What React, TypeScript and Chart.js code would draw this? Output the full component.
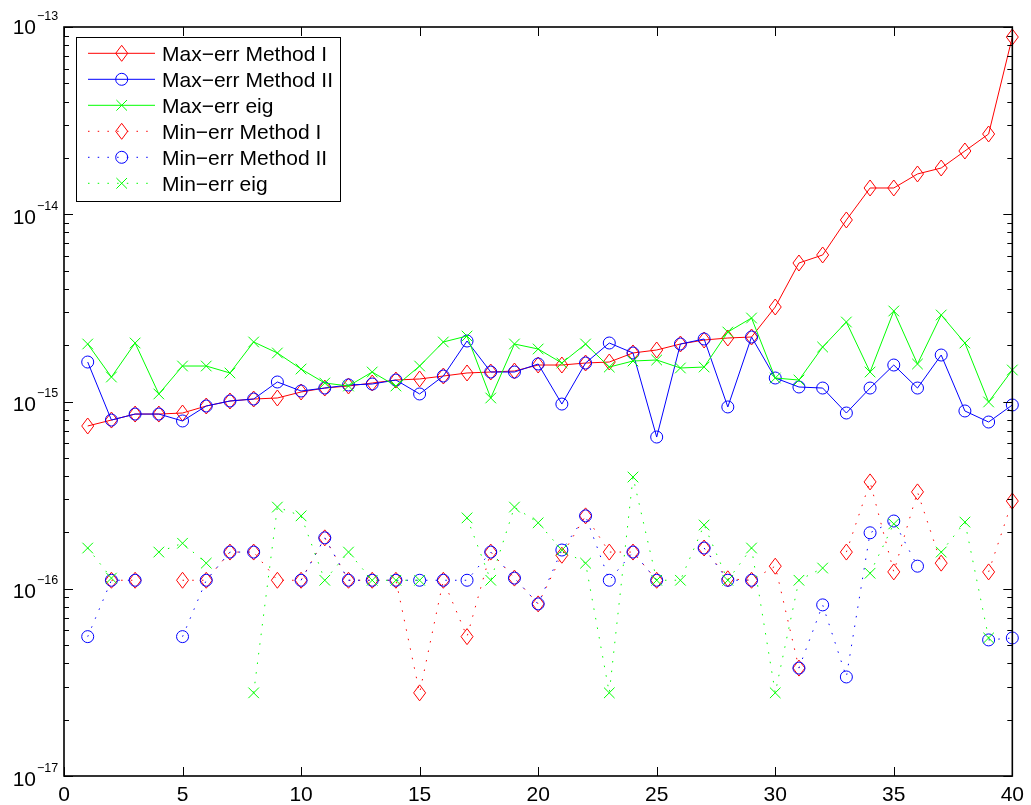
import React, { useEffect, useRef } from 'react';
import { Chart, registerables } from 'chart.js';

Chart.register(...registerables);

const X_VALUES = [1, 2, 3, 4, 5, 6, 7, 8, 9, 10, 11, 12, 13, 14, 15, 16, 17, 18, 19, 20,
  21, 22, 23, 24, 25, 26, 27, 28, 29, 30, 31, 32, 33, 34, 35, 36, 37, 38, 39, 40];
const X_TICKS = [0, 5, 10, 15, 20, 25, 30, 35, 40];
const Y_DECADES = [-17, -16, -15, -14, -13];

const maxErrMethodI = [7.40e-16, 7.96e-16, 8.57e-16, 8.57e-16, 8.68e-16, 9.46e-16, 1.006e-15, 1.031e-15, 1.044e-15, 1.124e-15,
  1.180e-15, 1.210e-15, 1.255e-15, 1.302e-15, 1.319e-15, 1.368e-15, 1.420e-15, 1.437e-15, 1.455e-15, 1.566e-15,
  1.566e-15, 1.605e-15, 1.625e-15, 1.816e-15, 1.884e-15, 2.028e-15, 2.130e-15, 2.183e-15, 2.210e-15, 3.196e-15,
  5.49e-15, 6.06e-15, 9.32e-15, 1.381e-14, 1.381e-14, 1.641e-14, 1.766e-14, 2.177e-14, 2.683e-14, 8.84e-14];

const maxErrMethodII = [1.625e-15, 7.96e-16, 8.57e-16, 8.57e-16, 7.87e-16, 9.46e-16, 1.006e-15, 1.031e-15, 1.271e-15, 1.138e-15,
  1.180e-15, 1.225e-15, 1.240e-15, 1.302e-15, 1.097e-15, 1.368e-15, 2.104e-15, 1.437e-15, 1.437e-15, 1.586e-15,
  9.69e-16, 1.605e-15, 2.053e-15, 1.816e-15, 6.46e-16, 2.028e-15, 2.157e-15, 9.35e-16, 2.210e-15, 1.335e-15,
  1.195e-15, 1.180e-15, 8.68e-16, 1.180e-15, 1.566e-15, 1.180e-15, 1.771e-15, 8.90e-16, 7.77e-16, 9.58e-16];

const maxErrEig = [2.028e-15, 1.351e-15, 2.053e-15, 1.097e-15, 1.547e-15, 1.547e-15, 1.420e-15, 2.079e-15, 1.816e-15, 1.491e-15,
  1.255e-15, 1.210e-15, 1.437e-15, 1.210e-15, 1.547e-15, 2.079e-15, 2.237e-15, 1.044e-15, 2.028e-15, 1.907e-15,
  1.605e-15, 2.028e-15, 1.528e-15, 1.645e-15, 1.666e-15, 1.510e-15, 1.528e-15, 2.350e-15, 2.792e-15, 1.335e-15,
  1.302e-15, 1.954e-15, 2.658e-15, 1.437e-15, 3.043e-15, 1.586e-15, 2.897e-15, 2.053e-15, 9.94e-16, 1.473e-15];

const minErrMethodI = [null, 1.11e-16, 1.11e-16, null, 1.11e-16, 1.11e-16, 1.57e-16, 1.57e-16, 1.11e-16, 1.11e-16,
  1.87e-16, 1.11e-16, 1.11e-16, 1.11e-16, 2.78e-17, 1.11e-16, 5.55e-17, 1.57e-16, 1.14e-16, 8.3e-17,
  1.51e-16, 2.45e-16, 1.57e-16, 1.57e-16, 1.11e-16, null, 1.65e-16, 1.13e-16, 1.11e-16, 1.32e-16,
  3.77e-17, null, 1.57e-16, 3.72e-16, 1.23e-16, 3.29e-16, 1.37e-16, null, 1.23e-16, 2.94e-16];

const minErrMethodII = [5.55e-17, 1.11e-16, 1.11e-16, null, 5.55e-17, 1.11e-16, 1.57e-16, 1.57e-16, null, 1.11e-16,
  1.87e-16, 1.11e-16, 1.11e-16, 1.11e-16, 1.11e-16, 1.11e-16, 1.11e-16, 1.57e-16, 1.14e-16, 8.3e-17,
  1.61e-16, 2.45e-16, 1.11e-16, 1.57e-16, 1.11e-16, null, 1.65e-16, 1.11e-16, 1.11e-16, null,
  3.77e-17, 8.2e-17, 3.38e-17, 1.99e-16, 2.30e-16, 1.32e-16, null, null, 5.33e-17, 5.46e-17];

const minErrEig = [1.65e-16, 1.14e-16, null, 1.57e-16, 1.75e-16, 1.37e-16, null, 2.78e-17, 2.73e-16, 2.45e-16,
  1.11e-16, 1.57e-16, 1.11e-16, 1.11e-16, 1.11e-16, null, 2.39e-16, 1.11e-16, 2.73e-16, 2.25e-16,
  1.61e-16, 1.37e-16, 2.78e-17, 3.95e-16, 1.11e-16, 1.11e-16, 2.19e-16, 1.11e-16, 1.65e-16, 2.78e-17,
  1.11e-16, 1.29e-16, null, 1.21e-16, 2.22e-16, null, 1.57e-16, 2.27e-16, 5.46e-17, null];

const SERIES_LABELS = ['Max\u2212err Method I', 'Max\u2212err Method II', 'Max\u2212err eig',
  'Min\u2212err Method I', 'Min\u2212err Method II', 'Min\u2212err eig'];

const RED = '#ff0000';
const BLUE = '#0000ff';
const GREEN = '#00ff00';
const FONT = '"Liberation Sans", Arial, Helvetica, sans-serif';
const DOTS = [1.5, 8.2];

function diamondPath(ctx: CanvasRenderingContext2D, x: number, y: number) {
  ctx.beginPath();
  ctx.moveTo(x, y - 8);
  ctx.lineTo(x + 6, y);
  ctx.lineTo(x, y + 8);
  ctx.lineTo(x - 6, y);
  ctx.closePath();
}

function drawMarker(ctx: CanvasRenderingContext2D, kind: string, color: string, x: number, y: number) {
  ctx.save();
  ctx.setLineDash([]);
  ctx.strokeStyle = color;
  ctx.lineWidth = 1;
  if (kind === 'diamond') {
    diamondPath(ctx, x, y);
    ctx.stroke();
  } else if (kind === 'circle') {
    ctx.beginPath();
    ctx.arc(x, y, 6, 0, Math.PI * 2);
    ctx.stroke();
  } else {
    const r = 5.3;
    ctx.beginPath();
    ctx.moveTo(x - r, y - r);
    ctx.lineTo(x + r, y + r);
    ctx.moveTo(x + r, y - r);
    ctx.lineTo(x - r, y + r);
    ctx.stroke();
  }
  ctx.restore();
}

export default function App() {
  const ref = useRef<HTMLCanvasElement>(null);

  useEffect(() => {
    const canvas = ref.current!;
    const values = [maxErrMethodI, maxErrMethodII, maxErrEig, minErrMethodI, minErrMethodII, minErrEig];
    const colors = [RED, BLUE, GREEN, RED, BLUE, GREEN];
    const kinds = ['diamond', 'circle', 'x', 'diamond', 'circle', 'x'];

    const datasets = values.map((arr, i) => {
      const kind = kinds[i];
      const radius = kind === 'diamond' ? 0 : kind === 'circle' ? 6 : 7.5;
      return {
        label: SERIES_LABELS[i],
        data: X_VALUES.map((x, j) => ({ x, y: arr[j] })),
        borderColor: colors[i],
        backgroundColor: 'transparent',
        borderWidth: 1,
        borderDash: i >= 3 ? DOTS : [],
        pointStyle: kind === 'circle' ? 'circle' : 'crossRot',
        pointRadius: radius,
        pointHoverRadius: radius,
        pointBorderColor: colors[i],
        pointBackgroundColor: 'transparent',
        pointBorderWidth: 1,
        tension: 0,
        spanGaps: false,
        clip: false as any,
        order: 5 - i,
        _kind: kind,
      };
    });

    const markerPlugin = {
      id: 'diamondMarkers',
      afterDatasetDraw(chart: any, args: any) {
        const meta = args.meta;
        const ds: any = chart.data.datasets[args.index];
        if (ds._kind !== 'diamond') return;
        const ctx = chart.ctx;
        meta.data.forEach((el: any) => {
          if (el.skip || el.y == null || isNaN(el.y)) return;
          drawMarker(ctx, 'diamond', ds.borderColor, el.x, el.y);
        });
      },
    };

    const framePlugin = {
      id: 'matlabFrame',
      afterDraw(chart: any) {
        const { ctx, chartArea } = chart;
        const { left, right, top, bottom } = chartArea;
        const xs = chart.scales.x;
        const ys = chart.scales.y;
        ctx.save();
        ctx.strokeStyle = '#000';
        ctx.fillStyle = '#000';
        ctx.setLineDash([]);

        ctx.lineWidth = 1;
        ctx.beginPath();
        X_TICKS.forEach((v) => {
          const px = Math.round(xs.getPixelForValue(v)) + 0.5;
          ctx.moveTo(px, bottom);
          ctx.lineTo(px, bottom - 9);
          ctx.moveTo(px, top);
          ctx.lineTo(px, top + 9);
        });
        Y_DECADES.forEach((d) => {
          const py = Math.round(ys.getPixelForValue(Math.pow(10, d))) + 0.5;
          ctx.moveTo(left, py);
          ctx.lineTo(left + 9, py);
          ctx.moveTo(right, py);
          ctx.lineTo(right - 9, py);
          if (d < -13) {
            for (let k = 2; k <= 9; k++) {
              const pm = Math.round(ys.getPixelForValue(k * Math.pow(10, d))) + 0.5;
              ctx.moveTo(left, pm);
              ctx.lineTo(left + 5, pm);
              ctx.moveTo(right, pm);
              ctx.lineTo(right - 5, pm);
            }
          }
        });
        ctx.stroke();

        ctx.lineWidth = 1.6;
        ctx.strokeRect(left, top, right - left, bottom - top);

        Y_DECADES.forEach((d) => {
          const py = ys.getPixelForValue(Math.pow(10, d));
          const shift = d === -13 ? -2.5 : 0;
          ctx.font = `21px ${FONT}`;
          ctx.textAlign = 'right';
          ctx.textBaseline = 'alphabetic';
          ctx.fillText('10', 36, py + 9.5 + shift);
          ctx.font = `12.5px ${FONT}`;
          ctx.textAlign = 'left';
          ctx.fillText('\u2212' + String(-d), 37, py - 4.5 + shift);
        });

        const lx = 76.5, ly = 37.5, lw = 264, lh = 164;
        ctx.fillStyle = '#fff';
        ctx.fillRect(lx, ly, lw, lh);
        ctx.lineWidth = 1;
        ctx.strokeStyle = '#000';
        ctx.strokeRect(lx, ly, lw, lh);
        chart.data.datasets.forEach((ds: any, i: number) => {
          const cy = 53.3 + 26 * i;
          ctx.save();
          ctx.strokeStyle = ds.borderColor;
          ctx.lineWidth = 1;
          ctx.setLineDash(ds.borderDash || []);
          ctx.beginPath();
          ctx.moveTo(88, cy);
          ctx.lineTo(155, cy);
          ctx.stroke();
          ctx.restore();
          drawMarker(ctx, ds._kind, ds.borderColor, 121.7, cy);
          ctx.fillStyle = '#000';
          ctx.font = `21px ${FONT}`;
          ctx.textAlign = 'left';
          ctx.textBaseline = 'alphabetic';
          ctx.fillText(ds.label, 162, cy + 7.7);
        });
        ctx.restore();
      },
    };

    const chart = new Chart(canvas, {
      type: 'line',
      data: { datasets: datasets as any },
      options: {
        responsive: false,
        animation: false,
        devicePixelRatio: 1,
        events: [],
        layout: { padding: { top: 27, right: 14, left: 0, bottom: 0 } },
        plugins: { legend: { display: false }, tooltip: { enabled: false } },
        scales: {
          x: {
            type: 'linear',
            min: 0,
            max: 40,
            afterBuildTicks: (s: any) => {
              s.ticks = X_TICKS.map((v) => ({ value: v }));
            },
            ticks: {
              font: { size: 21, family: FONT },
              color: '#000',
              padding: 7,
              maxRotation: 0,
              autoSkip: false,
            },
            grid: { display: false, drawTicks: false },
            border: { display: false },
            afterFit: (s: any) => {
              s.height = 29;
            },
          },
          y: {
            type: 'logarithmic',
            min: 1e-17,
            max: 1e-13,
            ticks: { display: false },
            grid: { display: false, drawTicks: false },
            border: { display: false },
            afterFit: (s: any) => {
              s.width = 64;
            },
          },
        },
      } as any,
      plugins: [markerPlugin, framePlugin],
    });
    return () => chart.destroy();
  }, []);

  return (
    <div style={{ position: 'absolute', left: 0, top: 0, width: 1031, height: 805, background: '#fff' }}>
      <canvas ref={ref} width={1031} height={805} style={{ display: 'block' }} />
    </div>
  );
}
